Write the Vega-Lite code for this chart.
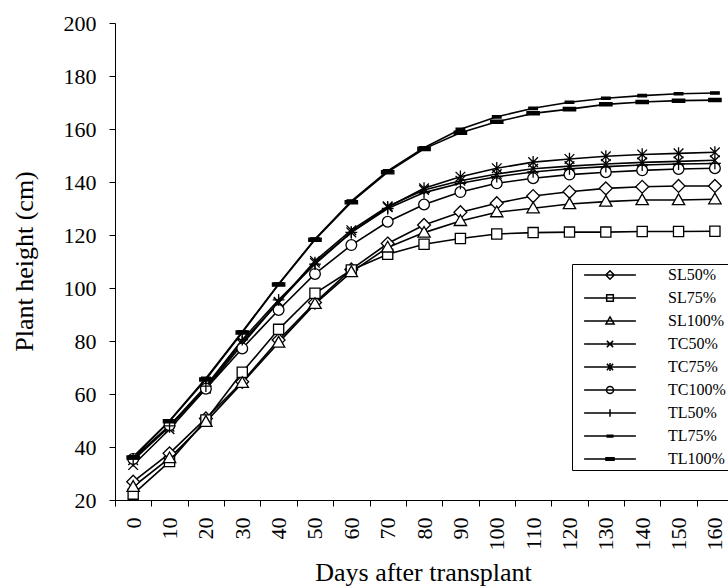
{
  "$schema": "https://vega.github.io/schema/vega-lite/v6.json",
  "width": 613,
  "height": 477,
  "autosize": {"type": "none"},
  "padding": {"left": 115, "top": 23, "right": 0, "bottom": 88},
  "background": "white",
  "config": {"view": {"stroke": null}, "font": "Liberation Serif"},
  "data": {"values": [
    {"s":"SL50%","d":0,"h":26.9},{"s":"SL50%","d":10,"h":37.6},{"s":"SL50%","d":20,"h":50.8},{"s":"SL50%","d":30,"h":64.6},{"s":"SL50%","d":40,"h":80.4},{"s":"SL50%","d":50,"h":94.5},{"s":"SL50%","d":60,"h":107.0},{"s":"SL50%","d":70,"h":116.8},{"s":"SL50%","d":80,"h":123.8},{"s":"SL50%","d":90,"h":128.6},{"s":"SL50%","d":100,"h":132.0},{"s":"SL50%","d":110,"h":134.7},{"s":"SL50%","d":120,"h":136.3},{"s":"SL50%","d":130,"h":137.6},{"s":"SL50%","d":140,"h":138.2},{"s":"SL50%","d":150,"h":138.5},{"s":"SL50%","d":160,"h":138.5},
    {"s":"SL75%","d":0,"h":22.2},{"s":"SL75%","d":10,"h":34.5},{"s":"SL75%","d":20,"h":50.2},{"s":"SL75%","d":30,"h":68.2},{"s":"SL75%","d":40,"h":84.4},{"s":"SL75%","d":50,"h":98.0},{"s":"SL75%","d":60,"h":106.8},{"s":"SL75%","d":70,"h":112.7},{"s":"SL75%","d":80,"h":116.5},{"s":"SL75%","d":90,"h":118.7},{"s":"SL75%","d":100,"h":120.4},{"s":"SL75%","d":110,"h":120.9},{"s":"SL75%","d":120,"h":121.1},{"s":"SL75%","d":130,"h":121.1},{"s":"SL75%","d":140,"h":121.3},{"s":"SL75%","d":150,"h":121.3},{"s":"SL75%","d":160,"h":121.4},
    {"s":"SL100%","d":0,"h":25.0},{"s":"SL100%","d":10,"h":35.8},{"s":"SL100%","d":20,"h":49.5},{"s":"SL100%","d":30,"h":64.2},{"s":"SL100%","d":40,"h":79.4},{"s":"SL100%","d":50,"h":94.0},{"s":"SL100%","d":60,"h":106.0},{"s":"SL100%","d":70,"h":115.3},{"s":"SL100%","d":80,"h":120.9},{"s":"SL100%","d":90,"h":125.3},{"s":"SL100%","d":100,"h":128.6},{"s":"SL100%","d":110,"h":130.1},{"s":"SL100%","d":120,"h":131.7},{"s":"SL100%","d":130,"h":132.6},{"s":"SL100%","d":140,"h":133.2},{"s":"SL100%","d":150,"h":133.2},{"s":"SL100%","d":160,"h":133.5},
    {"s":"TC50%","d":0,"h":33.2},{"s":"TC50%","d":10,"h":46.7},{"s":"TC50%","d":20,"h":62.0},{"s":"TC50%","d":30,"h":78.8},{"s":"TC50%","d":40,"h":94.8},{"s":"TC50%","d":50,"h":110.2},{"s":"TC50%","d":60,"h":121.8},{"s":"TC50%","d":70,"h":130.8},{"s":"TC50%","d":80,"h":137.0},{"s":"TC50%","d":90,"h":140.5},{"s":"TC50%","d":100,"h":143.0},{"s":"TC50%","d":110,"h":145.0},{"s":"TC50%","d":120,"h":146.0},{"s":"TC50%","d":130,"h":146.8},{"s":"TC50%","d":140,"h":147.4},{"s":"TC50%","d":150,"h":147.8},{"s":"TC50%","d":160,"h":148.2},
    {"s":"TC75%","d":0,"h":35.0},{"s":"TC75%","d":10,"h":47.7},{"s":"TC75%","d":20,"h":62.5},{"s":"TC75%","d":30,"h":79.7},{"s":"TC75%","d":40,"h":94.5},{"s":"TC75%","d":50,"h":109.5},{"s":"TC75%","d":60,"h":121.0},{"s":"TC75%","d":70,"h":130.5},{"s":"TC75%","d":80,"h":137.6},{"s":"TC75%","d":90,"h":142.0},{"s":"TC75%","d":100,"h":145.2},{"s":"TC75%","d":110,"h":147.5},{"s":"TC75%","d":120,"h":148.7},{"s":"TC75%","d":130,"h":149.7},{"s":"TC75%","d":140,"h":150.4},{"s":"TC75%","d":150,"h":150.8},{"s":"TC75%","d":160,"h":151.2},
    {"s":"TC100%","d":0,"h":35.5},{"s":"TC100%","d":10,"h":48.2},{"s":"TC100%","d":20,"h":62.0},{"s":"TC100%","d":30,"h":77.2},{"s":"TC100%","d":40,"h":91.7},{"s":"TC100%","d":50,"h":105.3},{"s":"TC100%","d":60,"h":116.2},{"s":"TC100%","d":70,"h":125.0},{"s":"TC100%","d":80,"h":131.5},{"s":"TC100%","d":90,"h":136.2},{"s":"TC100%","d":100,"h":139.5},{"s":"TC100%","d":110,"h":141.4},{"s":"TC100%","d":120,"h":142.8},{"s":"TC100%","d":130,"h":143.7},{"s":"TC100%","d":140,"h":144.4},{"s":"TC100%","d":150,"h":144.9},{"s":"TC100%","d":160,"h":145.2},
    {"s":"TL50%","d":0,"h":35.5},{"s":"TL50%","d":10,"h":48.0},{"s":"TL50%","d":20,"h":63.0},{"s":"TL50%","d":30,"h":80.5},{"s":"TL50%","d":40,"h":95.5},{"s":"TL50%","d":50,"h":109.0},{"s":"TL50%","d":60,"h":121.0},{"s":"TL50%","d":70,"h":130.0},{"s":"TL50%","d":80,"h":136.0},{"s":"TL50%","d":90,"h":139.5},{"s":"TL50%","d":100,"h":142.0},{"s":"TL50%","d":110,"h":143.8},{"s":"TL50%","d":120,"h":145.0},{"s":"TL50%","d":130,"h":145.8},{"s":"TL50%","d":140,"h":146.4},{"s":"TL50%","d":150,"h":146.8},{"s":"TL50%","d":160,"h":147.0},
    {"s":"TL75%","d":0,"h":36.3},{"s":"TL75%","d":10,"h":49.9},{"s":"TL75%","d":20,"h":65.9},{"s":"TL75%","d":30,"h":83.5},{"s":"TL75%","d":40,"h":101.5},{"s":"TL75%","d":50,"h":118.5},{"s":"TL75%","d":60,"h":132.8},{"s":"TL75%","d":70,"h":144.2},{"s":"TL75%","d":80,"h":152.9},{"s":"TL75%","d":90,"h":159.9},{"s":"TL75%","d":100,"h":164.6},{"s":"TL75%","d":110,"h":167.8},{"s":"TL75%","d":120,"h":170.1},{"s":"TL75%","d":130,"h":171.6},{"s":"TL75%","d":140,"h":172.6},{"s":"TL75%","d":150,"h":173.3},{"s":"TL75%","d":160,"h":173.6},
    {"s":"TL100%","d":0,"h":36.0},{"s":"TL100%","d":10,"h":49.7},{"s":"TL100%","d":20,"h":65.5},{"s":"TL100%","d":30,"h":83.2},{"s":"TL100%","d":40,"h":101.3},{"s":"TL100%","d":50,"h":118.2},{"s":"TL100%","d":60,"h":132.4},{"s":"TL100%","d":70,"h":143.7},{"s":"TL100%","d":80,"h":152.5},{"s":"TL100%","d":90,"h":158.6},{"s":"TL100%","d":100,"h":162.7},{"s":"TL100%","d":110,"h":165.9},{"s":"TL100%","d":120,"h":167.5},{"s":"TL100%","d":130,"h":169.3},{"s":"TL100%","d":140,"h":170.2},{"s":"TL100%","d":150,"h":170.7},{"s":"TL100%","d":160,"h":170.9}
  ]},
  "encoding": {
    "x": {
      "field": "d", "type": "quantitative",
      "scale": {"domain": [-5, 163.6], "nice": false, "zero": false},
      "axis": {
        "title": "Days after transplant",
        "titleFont": "Liberation Serif", "titleFontSize": 26, "titleFontWeight": "normal", "titleColor": "black",
        "titleX": 308, "titleY": 80, "titleAlign": "center", "titleBaseline": "alphabetic", "titleAnchor": null,
        "values": [-5,0,5,10,15,20,25,30,35,40,45,50,55,60,65,70,75,80,85,90,95,100,105,110,115,120,125,130,135,140,145,150,155,160],
        "labelExpr": "datum.value % 10 === 0 ? '' + datum.value : ''",
        "labelAngle": -90, "labelFont": "Liberation Serif", "labelFontSize": 22, "labelColor": "black",
        "labelPadding": 11, "labelOverlap": false, "labelBound": false, "labelFlush": false,
        "tickSize": 6, "tickColor": "black", "tickWidth": 1,
        "tickOpacity": {"condition": {"test": "datum.value % 10 === 0", "value": 0}, "value": 1},
        "domainColor": "black", "domainWidth": 1, "grid": false
      }
    },
    "y": {
      "field": "h", "type": "quantitative",
      "scale": {"domain": [20, 200], "nice": false, "zero": false},
      "axis": {
        "title": "Plant height (cm)",
        "titleFont": "Liberation Serif", "titleFontSize": 26, "titleFontWeight": "normal", "titleColor": "black",
        "titleX": -91, "titleY": 238, "titleAngle": -90, "titleAlign": "center", "titleBaseline": "middle", "titleAnchor": null,
        "values": [20,40,60,80,100,120,140,160,180,200],
        "labelFont": "Liberation Serif", "labelFontSize": 22, "labelColor": "black", "labelPadding": 13,
        "labelOverlap": false, "labelBound": false, "labelFlush": false,
        "tickSize": 6, "tickColor": "black", "tickWidth": 1,
        "domainColor": "black", "domainWidth": 1, "grid": false
      }
    }
  },
  "resolve": {"scale": {"shape": "independent"}},
  "layer": [
    {
      "mark": {"type": "line", "color": "black", "strokeWidth": 1.6},
      "encoding": {"detail": {"field": "s", "type": "nominal"}}
    },
    {
      "mark": {"type": "point", "stroke": "black", "strokeWidth": 1.3, "size": 115, "opacity": 1},
      "encoding": {
        "fill": {
          "field": "s", "type": "nominal",
          "scale": {"domain": ["SL50%","SL75%","SL100%","TC50%","TC75%","TC100%","TL50%","TL75%","TL100%"],
                    "range": ["white","white","white","white","white","white","white","black","black"]},
          "legend": null
        },
        "shape": {
          "field": "s", "type": "nominal",
          "scale": {
            "domain": ["SL50%","SL75%","SL100%","TC50%","TC75%","TC100%","TL50%","TL75%","TL100%"],
            "range": [
              "M0,-1.2L1.2,0L0,1.2L-1.2,0Z",
              "M-0.95,-0.95H0.95V0.95H-0.95Z",
              "M0,-1.15L1.15,0.85H-1.15Z",
              "M-0.9,-0.9L0.9,0.9M-0.9,0.9L0.9,-0.9",
              "M-0.9,-0.9L0.9,0.9M-0.9,0.9L0.9,-0.9M0,-1.15V1.15",
              "M1,0A1,1 0 1,1 -1,0A1,1 0 1,1 1,0Z",
              "M-1.1,0H1.1M0,-1.1V1.1",
              "M-0.8,-0.22H0.8V0.22H-0.8Z",
              "M-1.15,-0.3H1.15V0.3H-1.15Z"
            ]
          },
          "legend": null
        }
      }
    },
    {
      "mark": {"type": "point", "opacity": 0, "size": 49},
      "encoding": {
        "shape": {
          "field": "s", "type": "nominal",
          "scale": {
            "domain": ["SL50%","SL75%","SL100%","TC50%","TC75%","TC100%","TL50%","TL75%","TL100%"],
            "range": [
              "M-7.4,0H7.4M0,-1.2L1.2,0L0,1.2L-1.2,0Z",
              "M-7.4,0H7.4M-0.95,-0.95H0.95V0.95H-0.95Z",
              "M-7.4,0H7.4M0,-1.15L1.15,0.85H-1.15Z",
              "M-7.4,0H7.4M-0.9,-0.9L0.9,0.9M-0.9,0.9L0.9,-0.9",
              "M-7.4,0H7.4M-0.9,-0.9L0.9,0.9M-0.9,0.9L0.9,-0.9M0,-1.15V1.15",
              "M-7.4,0H7.4M1,0A1,1 0 1,1 -1,0A1,1 0 1,1 1,0Z",
              "M-7.4,0H7.4M0,-1.1V1.1",
              "M-7.4,0H7.4M-0.8,-0.25H0.8V0.25H-0.8Z",
              "M-7.4,0H7.4M-1.15,-0.35H1.15V0.35H-1.15Z"
            ]
          },
          "legend": {
            "title": null,
            "orient": "none", "legendX": 457, "legendY": 241,
            "padding": 3, "strokeColor": "black", "fillColor": "white",
            "symbolSize": 49, "symbolStrokeWidth": 1.5, "symbolStrokeColor": "black", "symbolFillColor": "white",
            "symbolOpacity": 1,
            "symbolOffset": 27, "labelOffset": 50, "rowPadding": 7,
            "labelFont": "Liberation Serif", "labelFontSize": 16, "labelColor": "black"
          }
        }
      }
    }
  ]
}
